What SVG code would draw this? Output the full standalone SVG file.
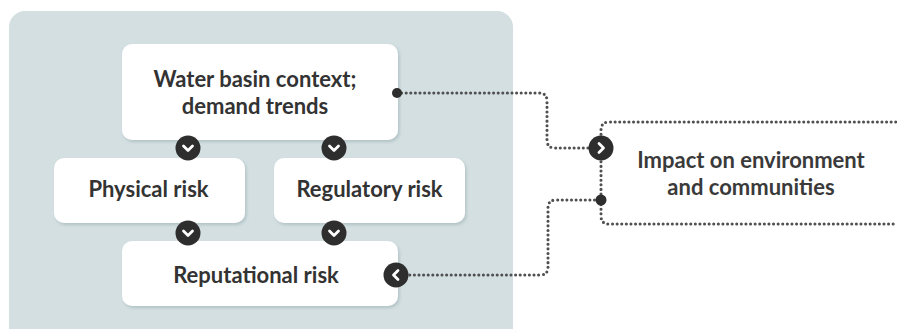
<svg xmlns="http://www.w3.org/2000/svg" width="897" height="329" viewBox="0 0 897 329">
<defs>
<filter id="sh" x="-10%" y="-10%" width="130%" height="140%">
<feDropShadow dx="1.5" dy="2" stdDeviation="1.5" flood-color="#8aa0a6" flood-opacity="0.45"/>
</filter>
</defs>
<style>
.box{fill:#ffffff;filter:url(#sh);}
.lbl{font-family:Lato,"Liberation Sans",sans-serif;font-weight:700;font-size:22px;fill:#333333;text-anchor:middle;}
.lbl2{font-family:Lato,"Liberation Sans",sans-serif;font-weight:700;font-size:22px;fill:#3a3a3a;text-anchor:middle;}
.dot{fill:none;stroke:#505050;stroke-width:3.1;stroke-linecap:round;stroke-dasharray:0 4.6;}
.circ{fill:#2e2e2e;}
.chev{fill:none;stroke:#ffffff;stroke-width:2.8;stroke-linecap:round;stroke-linejoin:round;}
</style>
<rect x="0" y="0" width="897" height="329" fill="#ffffff"/>
<rect id="panel" x="9" y="11" width="504" height="340" rx="16" fill="#d3dfe1"/>
<g id="connectors">
<path class="dot" d="M397 93 H539 Q547 93 547 101 V140 Q547 148 555 148 H601"/>
<path class="dot" d="M396 275 H540 Q548 275 548 267 V208 Q548 200 556 200 H601"/>
<path class="dot" d="M601 148 V200"/>
<path class="dot" d="M601 148 V130 Q601 122 609 122 H897"/>
<path class="dot" d="M601 200 V216 Q601 224 609 224 H897"/>
</g>
<g id="n-water">
<rect class="box" x="122" y="44" width="276" height="96" rx="10"/>
<text class="lbl" x="255" y="87">Water basin context;</text>
<text class="lbl" x="255" y="114">demand trends</text>
</g>
<g id="n-physical">
<rect class="box" x="54" y="158" width="191" height="65" rx="10"/>
<text class="lbl" x="148.5" y="197">Physical risk</text>
</g>
<g id="n-regulatory">
<rect class="box" x="274" y="158" width="191" height="65" rx="10"/>
<text class="lbl" x="369.5" y="197">Regulatory risk</text>
</g>
<g id="n-reputational">
<rect class="box" x="122" y="241" width="276" height="65" rx="10"/>
<text class="lbl" x="256" y="283">Reputational risk</text>
</g>
<g id="n-impact">
<text class="lbl2" x="751" y="168">Impact on environment</text>
<text class="lbl2" x="751" y="195">and communities</text>
</g>
<g id="markers">
<circle cx="397" cy="93" r="5" fill="#2e2e2e"/>
<circle cx="601" cy="200" r="5.5" fill="#2e2e2e"/>
<g transform="translate(188,148)"><circle class="circ" r="12.5"/><path class="chev" d="M-4.5 -2 L0 2.5 L4.5 -2"/></g>
<g transform="translate(334,148)"><circle class="circ" r="12.5"/><path class="chev" d="M-4.5 -2 L0 2.5 L4.5 -2"/></g>
<g transform="translate(188,233)"><circle class="circ" r="12.5"/><path class="chev" d="M-4.5 -2 L0 2.5 L4.5 -2"/></g>
<g transform="translate(334,233)"><circle class="circ" r="12.5"/><path class="chev" d="M-4.5 -2 L0 2.5 L4.5 -2"/></g>
<g transform="translate(396,275)"><circle class="circ" r="12.5"/><path class="chev" d="M2 -4.5 L-2.5 0 L2 4.5"/></g>
<g transform="translate(601,148)"><circle class="circ" r="12.5"/><path class="chev" d="M-2 -4.5 L2.5 0 L-2 4.5"/></g>
</g>
</svg>
